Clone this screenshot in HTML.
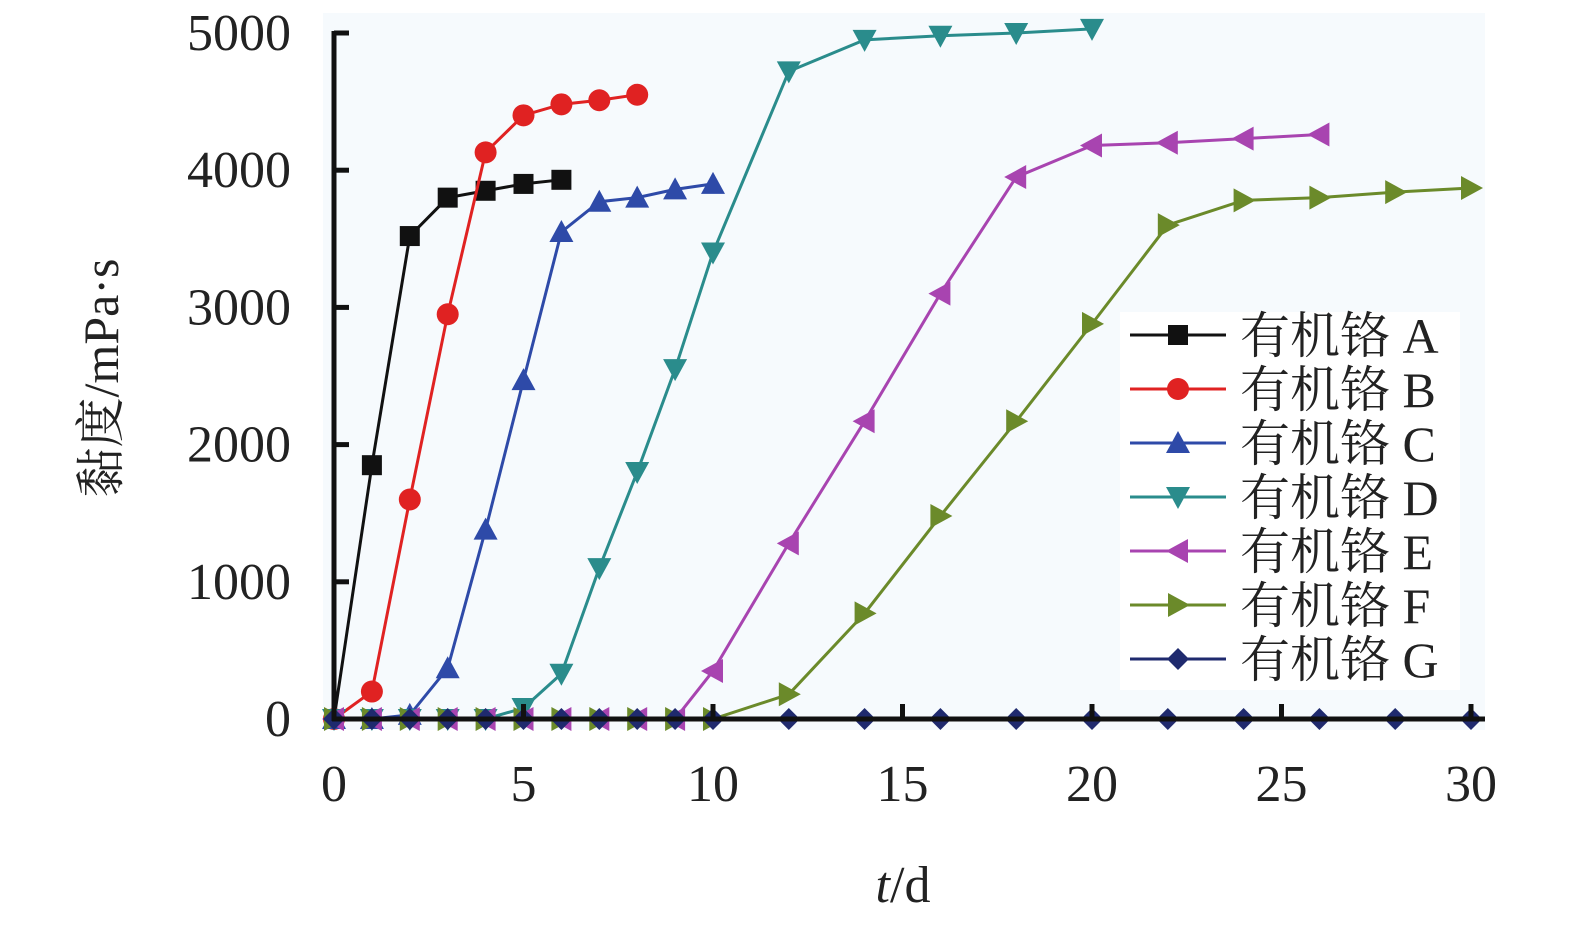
<!DOCTYPE html>
<html><head><meta charset="utf-8"><style>
body{margin:0;background:#fff;}
svg{display:block;font-family:"Liberation Serif","Noto Serif CJK SC",serif;}
</style></head><body>
<svg id="chart" width="1575" height="926" viewBox="0 0 1575 926">
<rect x="323" y="13" width="1162" height="717" fill="#f6fafd"/>
<g id="series"></g>
<g id="axes"></g>
<g id="legend"></g>
</svg>
<script>
const xTicks=[0,5,10,15,20,25,30];
const yTicks=[0,1000,2000,3000,4000,5000];
const names=["有机铬 A","有机铬 B","有机铬 C","有机铬 D","有机铬 E","有机铬 F","有机铬 G"];
const colors=["#111111","#e02222","#2e4aa8","#2a8c8c","#a844b0","#6b8a2a","#1f2a6e"];
const markers=["square","circle","up","down","left","right","diamond"];
const xA=[0,1,2,3,4,5,6];
const yA=[0,1850,3520,3800,3850,3900,3930];
const xB=[0,1,2,3,4,5,6,7,8];
const yB=[0,200,1600,2950,4130,4400,4480,4510,4550];
const xC=[0,1,2,3,4,5,6,7,8,9,10];
const yC=[0,0,30,370,1380,2470,3550,3770,3800,3860,3900];
const xD=[0,1,2,3,4,5,6,7,8,9,10,12,14,16,18,20];
const yD=[0,0,0,0,0,80,330,1100,1800,2550,3400,4720,4950,4980,5000,5030];
const xE=[0,1,2,3,4,5,6,7,8,9,10,12,14,16,18,20,22,24,26];
const yE=[0,0,0,0,0,0,0,0,0,0,350,1280,2170,3100,3950,4180,4200,4230,4260];
const xF=[0,1,2,3,4,5,6,7,8,9,10,12,14,16,18,20,22,24,26,28,30];
const yF=[0,0,0,0,0,0,0,0,0,0,0,180,770,1480,2170,2880,3600,3780,3800,3840,3870];
const xG=[0,1,2,3,4,5,6,7,8,9,10,12,14,16,18,20,22,24,26,28,30];
const yG=[0,0,0,0,0,0,0,0,0,0,0,0,0,0,0,0,0,0,0,0,0];
const XS=[xA,xB,xC,xD,xE,xF,xG], YS=[yA,yB,yC,yD,yE,yF,yG];
const NS="http://www.w3.org/2000/svg";
const sx=v=>334+v*(1471-334)/30;
const sy=v=>719-v*(719-33)/5000;
function mk(tag,attrs,parent){const e=document.createElementNS(NS,tag);for(const k in attrs)e.setAttribute(k,attrs[k]);parent.appendChild(e);return e;}
function marker(type,x,y,c,parent){
  const r=10;let e;
  if(type==="square")e=mk("rect",{x:x-r,y:y-r,width:2*r,height:2*r,fill:c},parent);
  else if(type==="circle")e=mk("circle",{cx:x,cy:y,r:r+1,fill:c},parent);
  else{let p;
    if(type==="up")p=[[x,y-r-2],[x+r+2,y+r],[x-r-2,y+r]];
    if(type==="down")p=[[x,y+r+2],[x+r+2,y-r],[x-r-2,y-r]];
    if(type==="left")p=[[x-r-2,y],[x+r,y-r-2],[x+r,y+r+2]];
    if(type==="right")p=[[x+r+2,y],[x-r,y-r-2],[x-r,y+r+2]];
    if(type==="diamond")p=[[x,y-r-1],[x+r+1,y],[x,y+r+1],[x-r-1,y]];
    e=mk("polygon",{points:p.map(q=>q.join(",")).join(" "),fill:c},parent);}
  return e;
}
const sg=document.getElementById("series");
for(let i=0;i<7;i++){
  const g=mk("g",{},sg);
  
  
  const pts=XS[i].map((x,j)=>sx(x)+","+sy(YS[i][j])).join(" ");
  const pl=mk("polyline",{points:pts,fill:"none",stroke:colors[i],"stroke-width":3},g);
  
  
  XS[i].forEach((x,j)=>{
    const m=marker(markers[i],sx(x),sy(YS[i][j]),colors[i],g);
    
    
  });
}
const ax=document.getElementById("axes");
const yl=mk("line",{x1:334,y1:31,x2:334,y2:721,stroke:"#111","stroke-width":5},ax);


const xl=mk("line",{x1:332,y1:719,x2:1485,y2:719,stroke:"#111","stroke-width":5},ax);


yTicks.forEach(v=>{
  mk("line",{x1:334,y1:sy(v),x2:349,y2:sy(v),stroke:"#111","stroke-width":5},ax);
  const t=mk("text",{x:291,y:sy(v)+17,"text-anchor":"end","font-size":52,fill:"#222"},ax);
  t.textContent=v;
  
  
});
xTicks.forEach(v=>{
  mk("line",{x1:sx(v),y1:719,x2:sx(v),y2:704,stroke:"#111","stroke-width":5},ax);
  const t=mk("text",{x:sx(v),y:801,"text-anchor":"middle","font-size":52,fill:"#222"},ax);
  t.textContent=v;
  
  
});
const xt=mk("text",{x:903,y:902,"text-anchor":"middle","font-size":52,fill:"#222"},ax);
xt.innerHTML='<tspan font-style="italic">t</tspan>/d';


const yt=mk("text",{x:0,y:0,"text-anchor":"middle","font-size":50,fill:"#222",transform:"translate(118,378) rotate(-90)"},ax);
yt.textContent="黏度/mPa·s";


const lg=document.getElementById("legend");
const lb=mk("rect",{x:1120,y:312,width:340,height:378,fill:"#ffffff"},lg);


for(let i=0;i<7;i++){
  const y=335+i*54;
  const g=mk("g",{},lg);
  
  
  mk("line",{x1:1130,y1:y,x2:1226,y2:y,stroke:colors[i],"stroke-width":3},g);
  marker(markers[i],1178,y,colors[i],g);
  const t=mk("text",{x:1240,y:y+18,"font-size":50,fill:"#222"},g);
  t.textContent=names[i];
}
</script>
</body></html>
